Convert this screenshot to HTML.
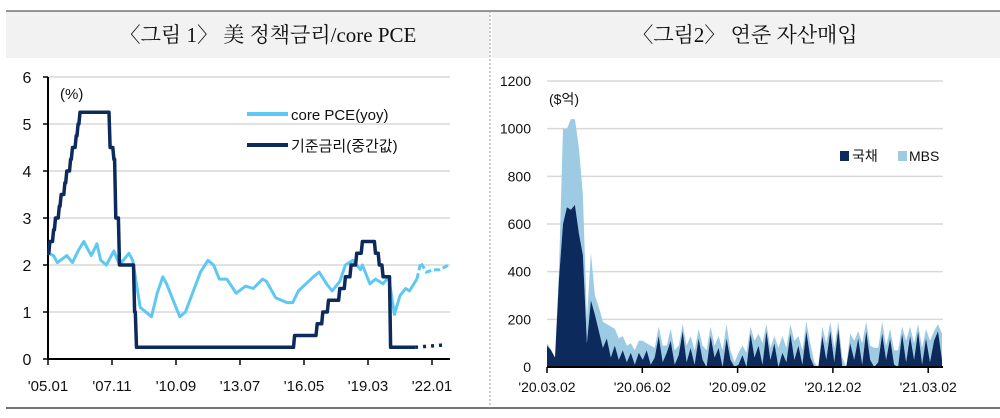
<!DOCTYPE html>
<html><head><meta charset="utf-8"><style>
html,body{margin:0;padding:0;background:#fff;}
body{width:1000px;height:413px;overflow:hidden;font-family:"Liberation Sans","Noto Sans CJK KR",sans-serif;}
svg text{font-family:"Liberation Sans","Noto Sans CJK KR",sans-serif;}
</style></head><body>
<svg id="s" width="1000" height="413" viewBox="0 0 1000 413">
<rect x="6" y="11" width="484" height="47" fill="#f2f2f2"/>
<rect x="492" y="11" width="508" height="47" fill="#f2f2f2"/>
<line x1="6" y1="11" x2="1000" y2="11" stroke="#333" stroke-width="1"/>
<line x1="6" y1="408" x2="1000" y2="408" stroke="#222" stroke-width="1.2"/>
<line x1="490" y1="11" x2="490" y2="408" stroke="#999" stroke-width="1" stroke-dasharray="2,2"/>
<text x="268" y="42" text-anchor="middle" font-size="21" style="font-family:'Liberation Serif','Noto Serif CJK SC',serif" fill="#111">〈그림 1〉 美 정책금리/core PCE</text>
<text x="745" y="42" text-anchor="middle" font-size="21" style="font-family:'Liberation Serif','Noto Serif CJK SC',serif" fill="#111">〈그림2〉 연준 자산매입</text>
<g id="L"></g><g id="R"></g>
</svg>
<script>
// ---- left chart data ----
const yTicksL=[0,1,2,3,4,5,6];
const xTickLabelsL=["'05.01","'07.11","'10.09","'13.07","'16.05","'19.03","'22.01"];
const xTickMonthsL=[0,34,68,102,136,170,204];
const pceMonths=[0,3,5,10,13,16,19,21,23,26,28,31,35,38,43,45,49,55,58,61,63,66,70,73,81,85,88,91,95,100,105,109,114,116,121,127,130,133,137,141,144,148,151,155,158,162,166,167,171,174,178,181,184,187,190,192,196,198,201,205,208,213];
const pceValues=[2.25,2.2,2.05,2.2,2.05,2.3,2.5,2.35,2.2,2.45,2.1,2.0,2.3,2.0,2.25,2.1,1.1,0.9,1.4,1.75,1.6,1.3,0.9,1.0,1.85,2.1,2.0,1.7,1.7,1.4,1.55,1.5,1.7,1.65,1.3,1.2,1.2,1.45,1.6,1.75,1.85,1.6,1.45,1.65,2.0,2.1,1.9,2.0,1.6,1.7,1.6,1.75,0.95,1.35,1.5,1.45,1.7,2.05,1.85,1.9,1.9,2.0];
const pceForecastFrom=195;
const fedMonths=[0,1,3,4,6,7,9,10,12,13,15,16,17,31,33,35,36,38,46,47,131,143,146,149,155,158,161,164,167,174,176,178,182,195,211];
const fedValues=[2.25,2.5,2.75,3.0,3.25,3.5,3.75,4.0,4.25,4.5,4.75,5.0,5.25,5.25,4.5,4.25,3.0,2.0,1.0,0.25,0.5,0.75,1.0,1.25,1.5,1.75,2.0,2.25,2.5,2.25,2.0,1.75,0.25,0.25,0.3];
const fedForecastFrom=195;
// ---- right chart data ----
const yTicksR=[0,200,400,600,800,1000,1200];
const xTickLabelsR=["'20.03.02","'20.06.02","'20.09.02","'20.12.02","'21.03.02"];
const treasury=[90,70,40,370,600,670,660,680,560,470,100,280,220,150,80,120,40,90,30,70,20,60,10,60,30,70,10,40,130,20,60,110,10,50,150,20,80,10,120,30,0,130,40,80,0,120,30,0,10,50,0,140,40,90,10,150,30,100,0,60,20,140,30,90,10,150,40,0,0,130,30,150,20,160,0,0,100,30,120,10,150,30,0,20,140,30,120,10,0,140,20,130,30,150,10,120,20,110,150,30];
const mbs=[10,5,0,40,400,330,380,360,360,250,100,200,80,100,110,60,130,70,90,60,70,40,60,50,80,30,80,40,40,70,30,50,60,40,30,70,50,60,40,60,70,40,50,50,70,60,40,20,50,40,60,30,70,50,90,30,50,30,80,70,60,40,80,40,60,40,60,20,0,40,70,40,60,30,40,0,40,80,30,90,40,60,80,60,50,60,40,60,70,30,90,40,70,30,70,40,90,40,30,110];

const NS="http://www.w3.org/2000/svg";
function mk(parent,tag,attrs){const e=document.createElementNS(NS,tag);for(const k in attrs)e.setAttribute(k,attrs[k]);parent.appendChild(e);return e;}
const L=document.getElementById('L');
const lx=m=>48+m*64/34, ly=v=>359-v*47;
yTicksL.forEach(v=>{
  if(v>0){const g=mk(L,'line',{x1:48,x2:450,y1:ly(v),y2:ly(v),stroke:'#d9d9d9','stroke-width':1.5});
  
  }
  const t=mk(L,'text',{x:27,y:ly(v)+6,'text-anchor':'middle','font-size':16,fill:'#111'});t.textContent=v;
  
  
  mk(L,'line',{x1:43,x2:48,y1:ly(v),y2:ly(v),stroke:'#000','stroke-width':1.5});
});
mk(L,'line',{x1:48,x2:48,y1:ly(6),y2:359,stroke:'#000','stroke-width':2});
mk(L,'line',{x1:48,x2:450,y1:359,y2:359,stroke:'#000','stroke-width':2});
xTickMonthsL.forEach((m,i)=>{
  mk(L,'line',{x1:lx(m),x2:lx(m),y1:359,y2:365,stroke:'#000','stroke-width':1.5});
  const t=mk(L,'text',{x:lx(m),y:391,'text-anchor':'middle','font-size':15,fill:'#111'});t.textContent=xTickLabelsL[i];
  
  
});
function pts(ms,vs,f){return ms.map((m,i)=>[m,vs[i]]).filter(p=>f(p[0])).map(p=>lx(p[0]).toFixed(1)+','+ly(p[1]).toFixed(1)).join(' ');}
function stepPts(ms,vs,f){let out=[];let idx=ms.map((m,i)=>i).filter(i=>f(ms[i]));
  idx.forEach((i,k)=>{ if(k>0){const pv=vs[idx[k-1]]; if(pv!==vs[i]) out.push(lx(ms[i]-0.6).toFixed(1)+','+ly(pv).toFixed(1));}
    out.push(lx(ms[i]).toFixed(1)+','+ly(vs[i]).toFixed(1));});
  return out.join(' ');}
let p=mk(L,'polyline',{points:pts(pceMonths,pceValues,m=>m<=pceForecastFrom+1),fill:'none',stroke:'#5fc8f2','stroke-width':3,'stroke-linejoin':'round'});


p=mk(L,'polyline',{points:pts(pceMonths,pceValues,m=>m>=pceForecastFrom),fill:'none',stroke:'#5fc8f2','stroke-width':3,'stroke-dasharray':'6,3'});


p=mk(L,'polyline',{points:stepPts(fedMonths,fedValues,m=>m<=fedForecastFrom),fill:'none',stroke:'#0d2a5c','stroke-width':3.5,'stroke-linejoin':'round'});


p=mk(L,'polyline',{points:pts(fedMonths,fedValues,m=>m>=fedForecastFrom),fill:'none',stroke:'#0d2a5c','stroke-width':3.5,'stroke-dasharray':'3,5'});


let t=mk(L,'text',{x:60,y:99,'font-size':15,fill:'#111'});t.textContent='(%)';


mk(L,'line',{x1:247,x2:288,y1:114,y2:114,stroke:'#5fc8f2','stroke-width':4});
t=mk(L,'text',{x:291,y:120,'font-size':15,fill:'#111'});t.textContent='core PCE(yoy)';


mk(L,'line',{x1:247,x2:288,y1:145,y2:145,stroke:'#0d2a5c','stroke-width':4});
t=mk(L,'text',{x:291,y:151,'font-size':15,fill:'#111'});t.textContent='기준금리(중간값)';



const R=document.getElementById('R');
const rx=i=>547+i*(395/(treasury.length-1)), ry=v=>367-v*286/1200;
yTicksR.forEach(v=>{
  if(v>0){const g=mk(R,'line',{x1:547,x2:943,y1:ry(v),y2:ry(v),stroke:'#d9d9d9','stroke-width':1.5});
  
  }
  const tt=mk(R,'text',{x:531,y:ry(v)+5,'text-anchor':'end','font-size':14,fill:'#111'});tt.textContent=v;
  
  
});
function area(lo,hi){let a=lo.map((v,i)=>rx(i).toFixed(1)+','+ry(hi[i]).toFixed(1));let b=lo.map((v,i)=>rx(i).toFixed(1)+','+ry(v).toFixed(1)).reverse();return a.concat(b).join(' ');}
const tot=treasury.map((v,i)=>v+mbs[i]);
const zero=treasury.map(()=>0);
p=mk(R,'polygon',{points:area(treasury,tot),fill:'#9dcbe3'});


p=mk(R,'polygon',{points:area(zero,treasury),fill:'#0d2a5c'});


mk(R,'line',{x1:547,x2:943,y1:367,y2:367,stroke:'#000','stroke-width':2});
xTickLabelsR.forEach((l,i)=>{
  const x=547+i*95.3;
  mk(R,'line',{x1:x,x2:x,y1:367,y2:373,stroke:'#000','stroke-width':1.5});
  const tt=mk(R,'text',{x:x,y:392,'text-anchor':'middle','font-size':14,fill:'#111'});tt.textContent=l;
  
  
});
t=mk(R,'text',{x:549,y:104,'font-size':14,fill:'#111'});t.textContent='($억)';


mk(R,'rect',{x:840,y:151,width:9,height:10,fill:'#0d2a5c'});
t=mk(R,'text',{x:852,y:161,'font-size':14,fill:'#111'});t.textContent='국채';


mk(R,'rect',{x:898,y:151,width:9,height:10,fill:'#9dcbe3'});
t=mk(R,'text',{x:909,y:161,'font-size':14,fill:'#111'});t.textContent='MBS';


</script>
</body></html>
